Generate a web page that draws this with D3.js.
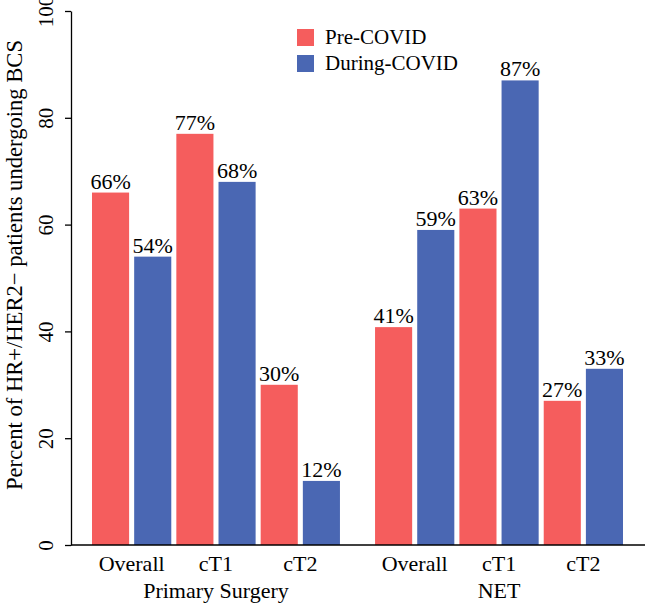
<!DOCTYPE html>
<html>
<head>
<meta charset="utf-8">
<script src="https://cdn.jsdelivr.net/npm/d3@7"></script>
<style>
  body { margin: 0; background: #fff; }
  svg text { font-family: "Liberation Serif", "Times New Roman", serif; fill: #000; }
</style>
</head>
<body>
<div id="chart"></div>
<script>
// Data
const groups = ["Primary Surgery", "NET"];
const categories = ["Overall", "cT1", "cT2"];
const series = ["Pre-COVID", "During-COVID"];
const preCovid = [66, 77, 30, 40.8, 63, 27];      // Primary Surgery x3, then NET x3
const duringCovid = [54, 68, 12, 59, 87, 33];
const yTicks = [0, 20, 40, 60, 80, 100];
const colors = ["#F55D5D", "#4A67B3"];

const width = 646, height = 608;
const margin = {top: 11, right: 1, bottom: 63, left: 71};
const fontSize = 22;

const svg = d3.select("#chart")
    .append("svg")
    .attr("width", width)
    .attr("height", height);

// Build a flat table of bars
const bars = [];
groups.forEach((g, gi) => {
    categories.forEach((c, ci) => {
        const k = gi * categories.length + ci;
        bars.push({group: g, cat: c, s: 0, slot: ci * 2, value: preCovid[k]});
        bars.push({group: g, cat: c, s: 1, slot: ci * 2 + 1, value: duringCovid[k]});
    });
});

// Scales
const y = d3.scaleLinear()
    .domain([0, 100])
    .range([height - margin.bottom, margin.top]);

const xGroup = d3.scaleBand()
    .domain(groups)
    .range([92, 623])
    .paddingInner(0.124)
    .paddingOuter(0);

const xSlot = d3.scaleBand()
    .domain(d3.range(6))
    .range([0, xGroup.bandwidth()])
    .paddingInner(0.12)
    .paddingOuter(0);

const barX = d => xGroup(d.group) + xSlot(d.slot);

// Bars
svg.append("g")
    .selectAll("rect")
    .data(bars)
    .join("rect")
    .attr("x", barX)
    .attr("y", d => y(d.value))
    .attr("width", xSlot.bandwidth())
    .attr("height", d => y(0) - y(d.value))
    .attr("fill", d => colors[d.s]);

// Value labels
svg.append("g")
    .selectAll("text")
    .data(bars)
    .join("text")
    .attr("x", d => barX(d) + xSlot.bandwidth() / 2)
    .attr("y", d => y(d.value) - 4)
    .attr("text-anchor", "middle")
    .style("font-size", fontSize + "px")
    .text(d => Math.round(d.value) + "%");

// Y axis with rotated tick labels
const yAxis = svg.append("g")
    .attr("transform", `translate(${margin.left},0)`)
    .call(d3.axisLeft(y).tickValues(yTicks).tickSize(6).tickSizeOuter(0));
yAxis.select(".domain").attr("stroke", "#000").attr("stroke-width", 1.3);
yAxis.selectAll(".tick line").attr("stroke", "#000").attr("stroke-width", 1.3);
yAxis.selectAll(".tick text")
    .attr("transform", "rotate(-90)")
    .attr("x", 0)
    .attr("y", -18)
    .attr("dy", 0)
    .attr("text-anchor", "middle")
    .style("font-size", "21px")
    .style("font-family", "Liberation Serif");

// Baseline
svg.append("line")
    .attr("x1", margin.left)
    .attr("x2", width - margin.right)
    .attr("y1", y(0))
    .attr("y2", y(0))
    .attr("stroke", "#000")
    .attr("stroke-width", 1.3);

// Y title
svg.append("text")
    .attr("transform", "translate(22,265) rotate(-90)")
    .attr("text-anchor", "middle")
    .style("font-size", "22.6px")
    .text("Percent of HR+/HER2\u2212 patients undergoing BCS");

// Category labels under each pair
const catLabels = [];
groups.forEach(g => categories.forEach((c, ci) => catLabels.push({group: g, cat: c, ci})));
svg.append("g")
    .selectAll("text")
    .data(catLabels)
    .join("text")
    .attr("x", d => xGroup(d.group) + (xSlot(d.ci * 2) + xSlot(d.ci * 2 + 1) + xSlot.bandwidth()) / 2)
    .attr("y", 571)
    .attr("text-anchor", "middle")
    .style("font-size", fontSize + "px")
    .text(d => d.cat);

// Group labels
svg.append("g")
    .selectAll("text")
    .data(groups)
    .join("text")
    .attr("x", d => xGroup(d) + xGroup.bandwidth() / 2)
    .attr("y", 598)
    .attr("text-anchor", "middle")
    .style("font-size", fontSize + "px")
    .text(d => d);

// Legend
const legend = svg.append("g").attr("transform", "translate(297,29)");
const item = legend.selectAll("g")
    .data(series)
    .join("g")
    .attr("transform", (d, i) => `translate(0,${i * 26})`);
item.append("rect")
    .attr("width", 17)
    .attr("height", 17)
    .attr("fill", (d, i) => colors[i]);
item.append("text")
    .attr("x", 28)
    .attr("y", 15)
    .style("font-size", "21px")
    .text(d => d);
</script>
</body>
</html>
